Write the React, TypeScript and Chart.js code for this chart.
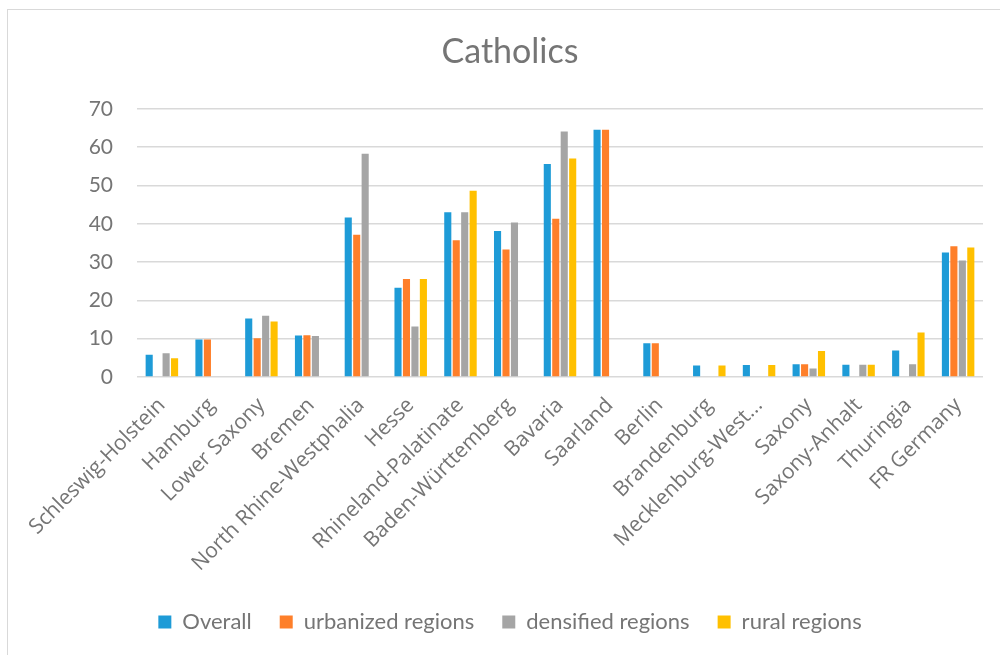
import React, { useEffect, useRef } from "react";
import { Chart, registerables } from "chart.js";

Chart.register(...registerables);

const states = [
  "Schleswig-Holstein",
  "Hamburg",
  "Lower Saxony",
  "Bremen",
  "North Rhine-Westphalia",
  "Hesse",
  "Rhineland-Palatinate",
  "Baden-Württemberg",
  "Bavaria",
  "Saarland",
  "Berlin",
  "Brandenburg",
  "Mecklenburg-West...",
  "Saxony",
  "Saxony-Anhalt",
  "Thuringia",
  "FR Germany",
];

const overall = [5.8, 9.8, 15.3, 10.8, 41.6, 23.3, 43.0, 38.1, 55.6, 64.5, 8.8, 3.0, 3.1, 3.3, 3.2, 6.9, 32.5];
const urbanized = [null, 9.8, 10.1, 10.9, 37.1, 25.6, 35.7, 33.3, 41.3, 64.5, 8.8, null, null, 3.3, null, null, 34.1];
const densified = [6.2, null, 16.0, 10.7, 58.3, 13.2, 43.0, 40.3, 64.1, null, null, null, null, 2.2, 3.2, 3.3, 30.4];
const rural = [4.9, null, 14.5, null, null, 25.6, 48.6, null, 57.0, null, null, 3.0, 3.1, 6.8, 3.2, 11.6, 33.8];

const seriesNames = ["Overall", "urbanized regions", "densified regions", "rural regions"];
const seriesColors = ["#1E9BD7", "#FE7F2A", "#A5A5A5", "#FFC000"];

const yTicks = [0, 10, 20, 30, 40, 50, 60, 70];

const FONT = "Lato, 'Open Sans', sans-serif";
const LABEL_FONT = "'Open Sans', Lato, sans-serif";
const TEXT = "#757575";

export default function App() {
  const ref = useRef<HTMLCanvasElement | null>(null);

  useEffect(() => {
    if (!ref.current) return;
    const values = [overall, urbanized, densified, rural];
    const chart = new Chart(ref.current, {
      type: "bar",
      data: {
        labels: states,
        datasets: values.map((v, i) => ({
          label: seriesNames[i],
          data: v,
          backgroundColor: seriesColors[i],
          borderWidth: 0,
          barPercentage: 0.84,
          categoryPercentage: 0.68,
        })),
      },
      options: {
        animation: false,
        responsive: false,
        maintainAspectRatio: false,
        layout: { padding: { left: 37, right: 17, top: 0, bottom: 12 } },
        plugins: {
          title: {
            display: true,
            text: "Catholics",
            color: TEXT,
            font: { family: FONT, size: 34, weight: "normal" },
            padding: { top: 32, bottom: 36 },
          },
          legend: {
            position: "bottom",
            labels: {
              color: TEXT,
              font: { family: FONT, size: 22 },
              boxWidth: 13,
              boxHeight: 13,
              padding: 28,
            },
          },
          tooltip: { enabled: false },
        },
        scales: {
          x: {
            grid: { display: false },
            border: { display: false },
            ticks: {
              color: TEXT,
              font: { family: LABEL_FONT, size: 21 },
              minRotation: 45,
              maxRotation: 45,
              autoSkip: false,
              padding: 8,
            },
            afterFit: (scale: any) => {
              scale.height = 206;
            },
          },
          y: {
            min: 0,
            max: 70,
            afterBuildTicks: (scale: any) => {
              scale.ticks = yTicks.map((v) => ({ value: v }));
            },
            grid: { color: "#D9D9D9", lineWidth: 1.5, drawTicks: false },
            border: { display: false },
            ticks: {
              color: TEXT,
              font: { family: FONT, size: 21 },
              padding: 24,
            },
            afterFit: (scale: any) => {
              scale.width = 100;
            },
          },
        },
      },
    });
    return () => chart.destroy();
  }, []);

  return (
    <div style={{ position: "fixed", left: 0, top: 0, width: 1000, height: 655, background: "#fff" }}>
      <div
        style={{
          position: "absolute",
          left: 7,
          top: 9,
          right: 0,
          bottom: 0,
          borderTop: "1px solid #D9D9D9",
          borderLeft: "1px solid #D9D9D9",
        }}
      />
      <canvas ref={ref} width={1000} height={655} style={{ position: "absolute", left: 0, top: 0 }} />
    </div>
  );
}
